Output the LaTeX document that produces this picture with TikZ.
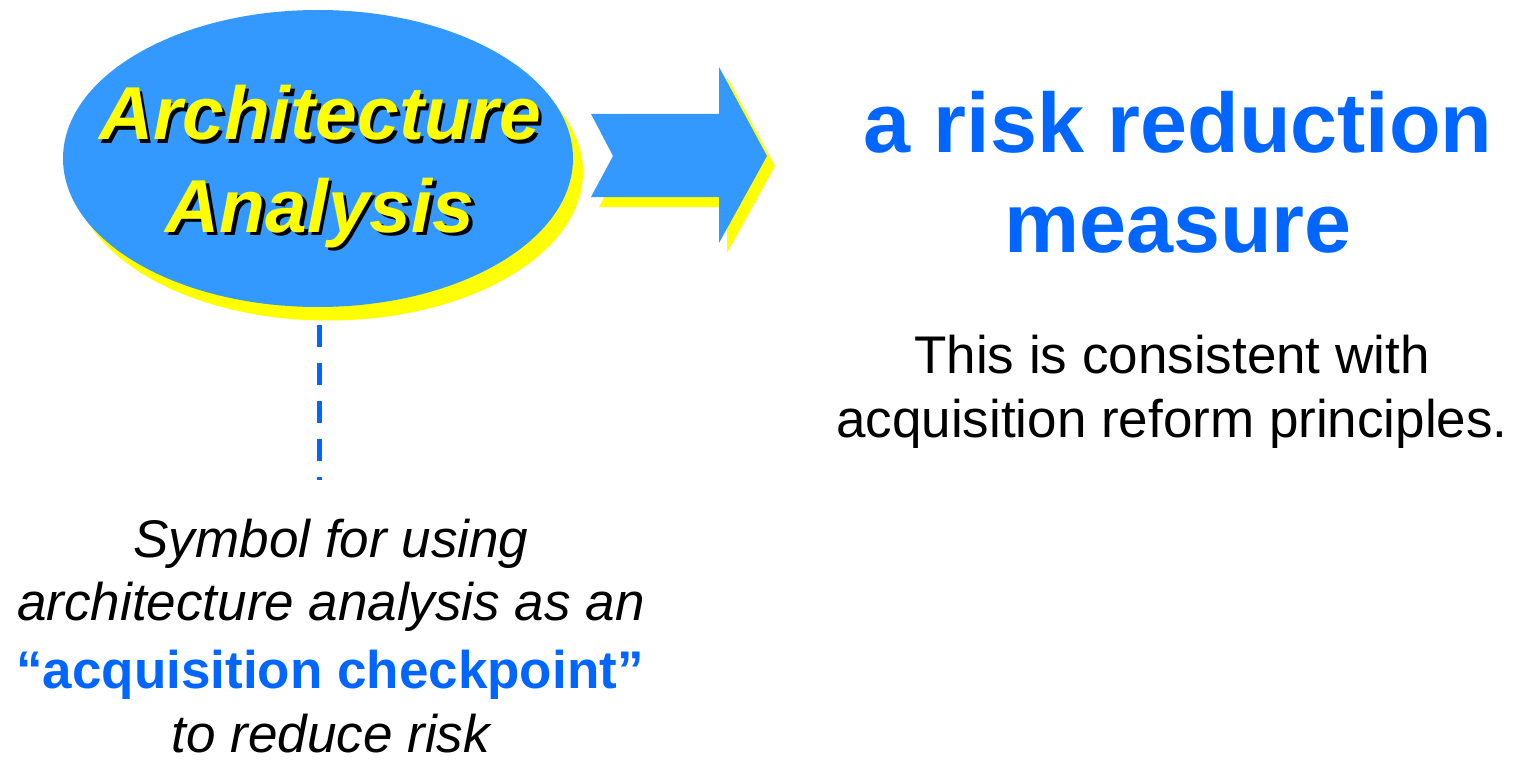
\documentclass[tikz,border=0pt]{standalone}
\usepackage{fontspec}
\setmainfont{Liberation Sans}
\usetikzlibrary{shapes.geometric}
\definecolor{ellblue}{RGB}{51,153,255}
\definecolor{txtblue}{RGB}{0,102,255}
\definecolor{shyellow}{RGB}{255,255,0}
\newcommand{\shadowtext}[1]{\makebox[0pt][l]{\hspace{3.5pt}\raisebox{-3.5pt}{\color{black}#1}}#1}
\tikzset{
  txt/.style={inner sep=0pt, anchor=base},
  titlefont/.style={font=\fontsize{84.5}{100}\selectfont\bfseries, text=txtblue},
  bodyfont/.style={font=\fontsize{53}{64}\selectfont},
  ellfont/.style={font=\fontsize{75}{90}\selectfont\bfseries\itshape, text=shyellow},
  dashline/.style={draw=txtblue, line width=5pt, dash pattern=on 22pt off 16pt},
}
\begin{document}
\begin{tikzpicture}[x=1pt,y=-1pt]
\useasboundingbox (0,0) rectangle (1513,765);
% ellipse with shadow
\node[ellipse, fill=shyellow, minimum width=510pt, minimum height=297pt, inner sep=0pt] (ellsh) at (328,172) {};
\node[ellipse, fill=ellblue, minimum width=510pt, minimum height=297pt, inner sep=0pt] (ell) at (318,158.5) {};
% ellipse text with black shadow
\node[txt, ellfont] (t1) at (320,140) {\shadowtext{Architecture}};
\node[txt, ellfont] (t2) at (320,232) {\shadowtext{Analysis}};
% arrow with shadow
\fill[shyellow] (599,124) -- (727,124) -- (727,77) -- (775,166) -- (727,253) -- (727,207) -- (599,207) -- (621,166) -- cycle;
\fill[ellblue] (591,114) -- (719,114) -- (719,67) -- (767,156) -- (719,243) -- (719,197) -- (591,197) -- (613,156) -- cycle;
% dashed connector
\coordinate (dashend) at (319.5,480);
\draw[dashline] ([yshift=-18pt]ell.south -| dashend) -- (dashend);
% right texts
\node[txt, titlefont] (r1) at (1178,153) {a risk reduction};
\node[txt, titlefont] (r2) at (1178,252) {measure};
\node[txt, bodyfont] (s1) at (1172,373) {This is consistent with};
\node[txt, bodyfont] (s2) at (1172,437) {acquisition reform principles.};
% bottom texts
\node[txt, font=\fontsize{53}{64}\selectfont\itshape] (b1) at (331,557) {Symbol for using};
\node[txt, font=\fontsize{53}{64}\selectfont\itshape] (b2) at (331,620) {architecture analysis as an};
\node[txt, font=\fontsize{53}{64}\selectfont\bfseries, text=txtblue] (b3) at (330,688) {“acquisition checkpoint”};
\node[txt, font=\fontsize{53}{64}\selectfont\itshape] (b4) at (331,752) {to reduce risk};
\end{tikzpicture}
\end{document}
